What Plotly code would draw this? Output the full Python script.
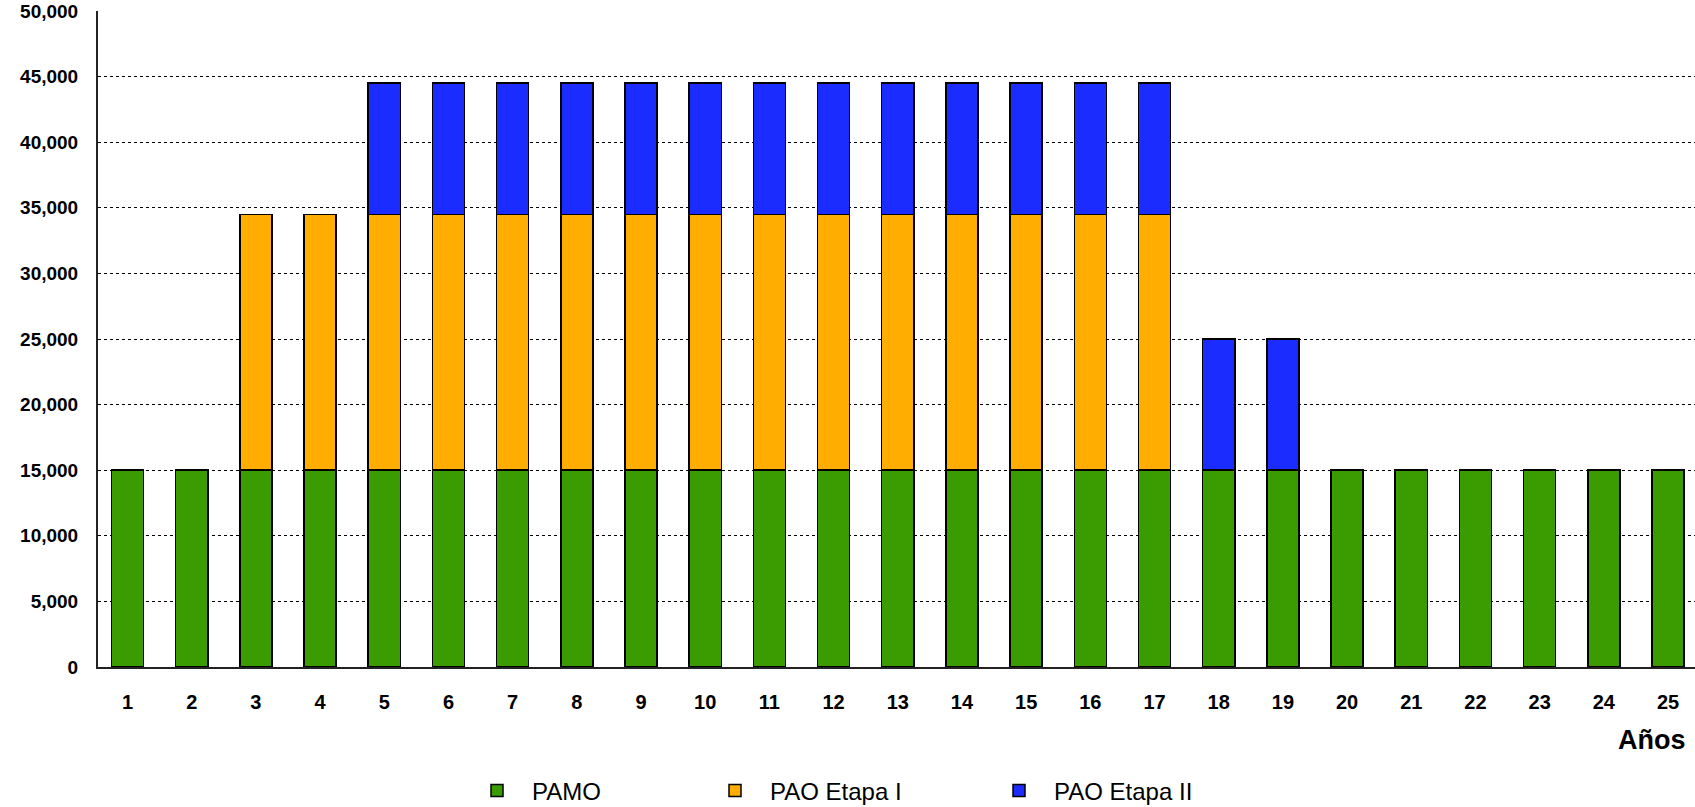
import plotly.graph_objects as go

years = list(range(1, 26))
pamo = [15000] * 25
pao_etapa_1 = [None, None] + [19500] * 15 + [None] * 8
pao_etapa_2 = [None] * 4 + [10000] * 15 + [None] * 6
y_ticks = list(range(0, 50001, 5000))
y_tick_labels = [f"{v:,}" for v in y_ticks]

series = [
    ("PAMO", pamo, "#3a9c00", "legend"),
    ("PAO Etapa I", pao_etapa_1, "#ffad00", "legend2"),
    ("PAO Etapa II", pao_etapa_2, "#1a2cff", "legend3"),
]

fig = go.Figure()
for name, vals, color, leg in series:
    fig.add_trace(go.Bar(
        x=years, y=vals, name=name, legend=leg,
        marker=dict(color=color, line=dict(color="black", width=1.5)),
    ))

legend_common = dict(
    orientation="h", xref="container", yref="container", yanchor="middle",
    y=0.02, itemwidth=60, bgcolor="rgba(0,0,0,0)",
    font=dict(family="Liberation Sans", size=24, color="black"),
)
fig.update_layout(
    width=1695, height=807,
    barmode="stack", bargap=0.5,
    plot_bgcolor="white", paper_bgcolor="white",
    margin=dict(l=98, r=0, t=11, b=140),
    showlegend=True,
    legend=dict(x=462 / 1695, **legend_common),
    legend2=dict(x=700 / 1695, **legend_common),
    legend3=dict(x=984 / 1695, **legend_common),
    xaxis=dict(
        range=[0.54, 25.42], tickmode="array", tickvals=years,
        ticktext=[str(y) for y in years], showgrid=False, zeroline=False,
        showline=True, linecolor="#222222", linewidth=2, ticks="",
        ticklabelstandoff=16,
        tickfont=dict(family="Liberation Sans", size=20, color="black", weight="bold"),
    ),
    yaxis=dict(
        range=[0, 50000], tickmode="array", tickvals=y_ticks, ticktext=y_tick_labels,
        showgrid=True, gridcolor="black", griddash="dot", gridwidth=1,
        zeroline=False, showline=True, linecolor="#222222", linewidth=2, ticks="",
        ticklabelstandoff=14,
        tickfont=dict(family="Liberation Sans", size=19, color="black", weight="bold"),
    ),
    annotations=[dict(
        text="Años", xref="paper", yref="paper", x=1, y=-0.1113,
        xanchor="right", yanchor="middle", xshift=-7, showarrow=False,
        font=dict(family="Liberation Sans", size=27, color="black", weight="bold"),
    )],
)

fig.write_html(
    "out.html",
    config={"displayModeBar": False},
    post_script="document.body.style.margin='0';document.body.style.overflow='hidden';",
)
